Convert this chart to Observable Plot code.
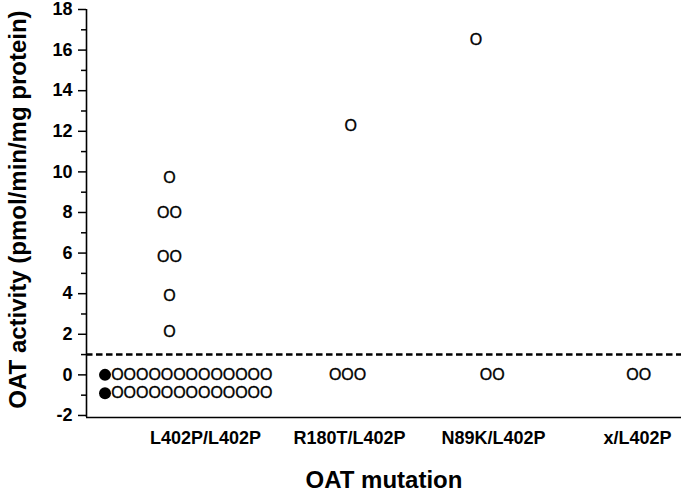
<!DOCTYPE html>
<html>
<head>
<meta charset="utf-8">
<script src="https://cdn.jsdelivr.net/npm/d3@7"></script>
<script src="https://cdn.jsdelivr.net/npm/@observablehq/plot@0.6"></script>
<style>
  html, body { margin: 0; padding: 0; background: white; }
  #chart svg { display: block; }
</style>
</head>
<body>
<div id="chart"></div>
<script>
// ---- data ----
const categories = ["L402P/L402P", "R180T/L402P", "N89K/L402P", "x/L402P"];

// groups of patients with the same OAT activity, shown side by side
const groupCategory = ["L402P/L402P", "L402P/L402P", "L402P/L402P", "L402P/L402P", "L402P/L402P",
                       "L402P/L402P", "L402P/L402P",
                       "R180T/L402P", "R180T/L402P",
                       "N89K/L402P", "N89K/L402P",
                       "x/L402P"];
const groupActivity = [9.7, 8.0, 5.8, 3.9, 2.1, 0, -0.9, 12.25, 0, 16.5, 0, 0];
const groupOpenCount = [1, 2, 2, 1, 1, 13, 13, 1, 3, 1, 2, 2];
const groupFilledCount = [0, 0, 0, 0, 0, 1, 1, 0, 0, 0, 0, 0];

const yMajorTicks = [-2, 0, 2, 4, 6, 8, 10, 12, 14, 16, 18];
const yMinorTicks = [-1, 1, 3, 5, 7, 9, 11, 13, 15, 17];
const thresholdValue = 1;

const yTitle = "OAT activity (pmol/min/mg protein)";
const xTitle = "OAT mutation";

// ---- layout (not data): horizontal shift of each group's centre, in symbol widths ----
const groupShift = [-2.9, -2.9, -2.9, -2.9, -2.9, -1.6, -1.6, 0.1, -0.15, -1.4, -0.1, 0.1];
const symbolStep = 0.0861; // width of one symbol in category units

// build individual points
const openPts = [], filledPts = [];
groupCategory.forEach((cat, g) => {
  const ci = categories.indexOf(cat);
  const n = groupFilledCount[g] + groupOpenCount[g];
  for (let k = 0; k < n; k++) {
    const x = ci + (groupShift[g] + (k - (n - 1) / 2)) * symbolStep;
    const p = {x, y: groupActivity[g], category: cat};
    if (k < groupFilledCount[g]) filledPts.push(p); else openPts.push(p);
  }
});

const xMin = -0.826, xMax = 3.306, yMin = -2.1, yMax = 18;
const font = "'Liberation Sans', Arial, Helvetica, sans-serif";

const chart = Plot.plot({
  width: 685,
  height: 497,
  marginLeft: 86,
  marginRight: 4,
  marginTop: 9,
  marginBottom: 80,
  x: {domain: [xMin, xMax], axis: null},
  y: {domain: [yMin, yMax], axis: null},
  style: {fontFamily: font, background: "white", color: "black"},
  marks: [
    Plot.axisY({ticks: yMajorTicks, tickSize: 8, tickPadding: 6, tickFormat: d => String(d),
                fontSize: 18, fontWeight: "bold", label: null, strokeWidth: 1.5}),
    Plot.axisY({ticks: yMinorTicks, tickSize: 5, tickFormat: () => "", label: null, strokeWidth: 1.5}),
    Plot.axisX({ticks: categories.map((c, i) => i), tickFormat: i => categories[i], tickSize: 0,
                tickPadding: 14, fontSize: 18, fontWeight: "bold", label: null}),
    Plot.ruleX([xMin], {stroke: "black", strokeWidth: 1.6}),
    Plot.ruleY([yMin], {stroke: "black", strokeWidth: 1.6}),
    Plot.ruleY([thresholdValue], {stroke: "black", strokeWidth: 2.6, strokeDasharray: "6.5,3.5"}),
    Plot.text(openPts, {x: "x", y: "y", text: () => "O", fontSize: 16, fontWeight: "normal",
                        fill: "black", stroke: "black", strokeWidth: 0.35}),
    Plot.dot(filledPts, {x: "x", y: "y", r: 6, fill: "black", stroke: "none"}),
    Plot.text([xTitle], {frameAnchor: "bottom", dy: 70, fontSize: 24, fontWeight: "bold", fill: "black"}),
    Plot.text([yTitle], {frameAnchor: "left", textAnchor: "middle", dx: -68, dy: -4, rotate: -90,
                         fontSize: 24, fontWeight: "bold", fill: "black"})
  ]
});
document.getElementById("chart").appendChild(chart);
</script>
</body>
</html>
